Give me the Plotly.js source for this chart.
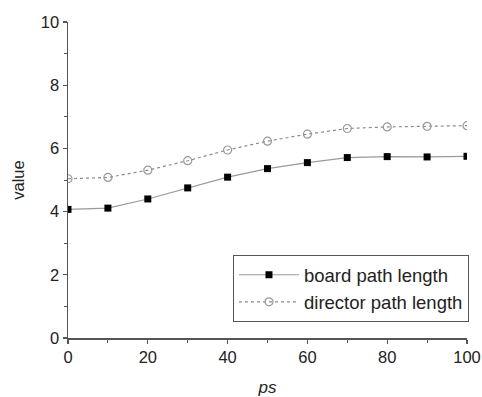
<!DOCTYPE html>
<html>
<head>
<meta charset="utf-8">
<script src="https://cdn.plot.ly/plotly-3.0.1.min.js"></script>
<style>html,body{margin:0;padding:0;background:#fff;}#chart{width:482px;height:397px;}</style>
</head>
<body>
<div id="chart"></div>
<script>
const psValues = [0, 10, 20, 30, 40, 50, 60, 70, 80, 90, 100];
const boardPathLength = [4.07, 4.11, 4.40, 4.75, 5.09, 5.36, 5.55, 5.71, 5.74, 5.73, 5.75];
const directorPathLength = [5.04, 5.08, 5.31, 5.61, 5.95, 6.23, 6.45, 6.63, 6.68, 6.70, 6.72];
const seriesNames = ["board path length", "director path length"];
const xTickVals = [0, 20, 40, 60, 80, 100];
const yTickVals = [0, 2, 4, 6, 8, 10];

const traces = [
  {
    x: psValues, y: boardPathLength, name: seriesNames[0],
    mode: 'lines+markers', type: 'scatter',
    line: {color: '#9a9a9a', width: 1.2, dash: 'solid'},
    marker: {symbol: 'square', size: 7, color: '#000', line: {color: '#000', width: 0}}
  },
  {
    x: psValues, y: directorPathLength, name: seriesNames[1],
    mode: 'lines+markers', type: 'scatter',
    line: {color: '#8a8a8a', width: 1.2, dash: 'dot'},
    marker: {symbol: 'circle-open', size: 8, color: '#999', line: {color: '#999', width: 1.2}}
  }
];

const layout = {
  width: 482, height: 397,
  margin: {l: 68, r: 15, t: 22, b: 59, autoexpand: false},
  paper_bgcolor: '#fff', plot_bgcolor: '#fff',
  font: {family: 'Liberation Sans, Arial, sans-serif', size: 16, color: '#222'},
  showlegend: true,
  legend: {
    x: 0.4135, y: 0.262, xanchor: 'left', yanchor: 'top',
    bordercolor: '#555', borderwidth: 1, bgcolor: '#fff',
    font: {size: 18.5, color: '#222'}, tracegroupgap: 0, itemwidth: 60
  },
  xaxis: {
    range: [0, 100], tickvals: xTickVals, ticks: 'outside', ticklen: 4, tickwidth: 1.2, tickcolor: '#555',
    showline: true, linecolor: '#555', linewidth: 1.5, showgrid: false, zeroline: false,
    minor: {dtick: 10, ticks: 'outside', ticklen: 3, tickcolor: '#555', tickwidth: 1},
    tickfont: {size: 16.5, color: '#222'},
    title: {text: '<i>ps</i>', font: {size: 17, color: '#222'}, standoff: 16}
  },
  yaxis: {
    range: [0, 10], tickvals: yTickVals, ticks: 'outside', ticklen: 4, tickwidth: 1.2, tickcolor: '#555',
    showline: true, linecolor: '#555', linewidth: 1.5, showgrid: false, zeroline: false,
    minor: {dtick: 1, ticks: 'outside', ticklen: 3, tickcolor: '#555', tickwidth: 1},
    tickfont: {size: 16.5, color: '#222'},
    title: {text: 'value', font: {size: 16.5, color: '#222'}, standoff: 12}
  }
};

Plotly.newPlot('chart', traces, layout, {displayModeBar: false, staticPlot: true});
</script>
</body>
</html>
